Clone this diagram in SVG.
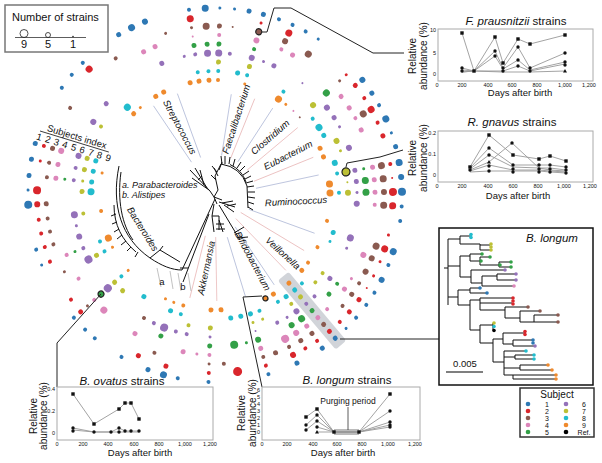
<svg xmlns="http://www.w3.org/2000/svg" xmlns:xlink="http://www.w3.org/1999/xlink" width="602" height="463" viewBox="0 0 602 463">
<style>
text{font-family:"Liberation Sans",Arial,Helvetica,sans-serif;fill:#111}
.it{font-style:italic}
.k1{fill:#2e78b4}.k2{fill:#d9262c}.k3{fill:#8a5a50}.k4{fill:#dc86ba}.k5{fill:#33a047}.k6{fill:#9471b9}.k7{fill:#bcc035}.k8{fill:#22bccd}.k9{fill:#ef8a2d}.k0{fill:#000}
.o{stroke:#222;stroke-width:1.2}
.tr{fill:none;stroke:#111;stroke-width:1}
.gb{stroke:#9aa6cc;stroke-width:.6}
.gr{stroke:#e3a3a3;stroke-width:.6}
.box{fill:#fff;stroke:#aaa;stroke-width:1}
.dl{fill:none;stroke:#999;stroke-width:.9}
.tk{font-size:5.5px;fill:#555}
.ax{font-size:9.5px}
.yl{font-size:10px}
.ttl{font-size:11.5px}
.cn{fill:none;stroke:#222;stroke-width:1}
.gn{font-size:9.5px;font-style:italic}
.lg{font-size:7px}
</style>
<defs>
<rect id="sq" x="-1.7" y="-1.7" width="3.4" height="3.4"/>
<circle id="ci" r="1.7"/>
<path id="tri" d="M0,-2 L2,1.5 L-2,1.5Z"/>
</defs>

<g id="legend-strains">
<rect x="5" y="5" width="103" height="47" fill="#fff" stroke="#777" stroke-width="1.5"/>
<text x="12" y="21" font-size="11">Number of strains</text>
<line x1="15" y1="37.5" x2="86" y2="37.5" stroke="#333" stroke-width=".8"/>
<circle cx="24" cy="33.5" r="4" fill="none" stroke="#222" stroke-width=".8"/>
<circle cx="48" cy="35" r="2.5" fill="none" stroke="#222" stroke-width=".8"/>
<circle cx="73" cy="36.5" r=".8" fill="#222"/>
<text x="24" y="48" font-size="11" text-anchor="middle">9</text>
<text x="48" y="48" font-size="11" text-anchor="middle">5</text>
<text x="73" y="48" font-size="11" text-anchor="middle">1</text>
</g>

<rect id="highlight" transform="translate(215 195) rotate(50)" x="106" y="-7" width="90" height="14" rx="3" fill="#c9cdd2" opacity=".85"/>

<g id="dots" transform="translate(215 195)">
<g transform="rotate(-178.5)"><circle class="k1" cx="187" r="1.5"/><circle class="k2" cx="178" r="4"/><circle class="k7" cx="133" r="2.5"/><circle class="k8" cx="124" r="3.5"/></g>
<g transform="rotate(-174)"><circle class="k1" cx="187" r="2.5"/><circle class="k3" cx="169" r="2"/><circle class="k4" cx="160" r="2.5"/><circle class="k5" cx="151" r="1.5"/><circle class="k6" cx="142" r="2"/><circle class="k7" cx="133" r="1.5"/><circle class="k8" cx="124" r="2.5"/></g>
<g transform="rotate(-169)"><circle class="k1" cx="187" r="2.5"/><circle class="k2" cx="178" r="1.5"/><circle class="k3" cx="169" r="2"/><circle class="k4" cx="160" r="2.5"/><circle class="k6" cx="142" r="2"/><circle class="k7" cx="133" r="2.5"/><circle class="k8" cx="124" r="2.5"/><circle class="k9" cx="115" r="1.5"/></g>
<g transform="rotate(-164)"><circle class="k1" cx="187" r="2.5"/><circle class="k2" cx="178" r="2"/><circle class="k3" cx="169" r="2.5"/><circle class="k4" cx="160" r="3"/><circle class="k6" cx="142" r="3"/><circle class="k7" cx="133" r="2.5"/><circle class="k8" cx="124" r="2.5"/></g>
<g transform="rotate(-149)"><circle class="k3" cx="169" r="2"/><circle class="k6" cx="142" r="3"/><circle class="k7" cx="133" r="2"/></g>
<g transform="rotate(-145)"><circle class="k1" cx="187" r="2"/></g>
<g transform="rotate(-140)"><circle class="k1" cx="187" r="2"/><circle class="k6" cx="142" r="2.5"/></g>
<g transform="rotate(-135)"><circle class="k1" cx="187" r="2"/><circle class="k2" cx="178" r="3.5"/><circle class="k8" cx="124" r="3.5"/><circle class="k9" cx="115" r="2.5"/></g>
<g transform="rotate(-130.5)"><circle class="k9" cx="115" r="1.5"/></g>
<g transform="rotate(-126)"><circle class="k3" cx="169" r="2"/></g>
<g transform="rotate(-121)"><circle class="k1" cx="187" r="2.5"/><circle class="k9" cx="115" r="2.5"/></g>
<g transform="rotate(-116.5)"><circle class="k1" cx="187" r="3.5"/><circle class="k4" cx="160" r="2.5"/><circle class="k9" cx="115" r="2.5"/></g>
<g transform="rotate(-112)"><circle class="k1" cx="187" r="3"/><circle class="k4" cx="160" r="2.5"/><circle class="k6" cx="142" r="2.5"/></g>
<g transform="rotate(-107)"><circle class="k3" cx="169" r="1.5"/></g>
<g transform="rotate(-102.5)"><circle class="k6" cx="142" r="1.5"/><circle class="k9" cx="115" r="2.5"/></g>
<g transform="rotate(-98)"><circle class="k1" cx="187" r="2"/><circle class="k2" cx="178" r="3.5"/><circle class="k3" cx="169" r="1.5"/><circle class="k4" cx="160" r="1"/><circle class="k5" cx="151" r="2.5"/><circle class="k6" cx="142" r="2"/><circle class="k8" cx="124" r="2"/><circle class="k9" cx="115" r="2.5"/></g>
<g transform="rotate(-93)"><circle class="k1" cx="187" r="3.5"/><circle class="k3" cx="169" r="3.5"/><circle class="k5" cx="151" r="2.5"/><circle class="k6" cx="142" r="3.5"/><circle class="k8" cx="124" r="2"/><circle class="k9" cx="115" r="2.5"/></g>
<g transform="rotate(-88.5)"><circle class="k1" cx="187" r="1.5"/><circle class="k3" cx="169" r="2.5"/><circle class="k4" cx="160" r="2"/><circle class="k5" cx="151" r="2.5"/><circle class="k6" cx="142" r="3.5"/><circle class="k7" cx="133" r="2.5"/><circle class="k8" cx="124" r="2"/><circle class="k9" cx="115" r="2"/></g>
<g transform="rotate(-84)"><circle class="k1" cx="187" r="1.5"/><circle class="k3" cx="169" r="1"/><circle class="k6" cx="142" r="2"/></g>
<g transform="rotate(-79.5)"><circle class="k1" cx="187" r="2.5"/><circle class="k8" cx="124" r="2.5"/></g>
<g transform="rotate(-75)"><circle class="k1" cx="187" r="2.5"/><circle class="k2" cx="178" r="1.5"/><circle class="k3 o" cx="169" r="3"/><circle class="k4" cx="160" r="3"/><circle class="k5" cx="151" r="2"/><circle class="k6" cx="142" r="3"/><circle class="k7" cx="133" r="2.5"/><circle class="k8" cx="124" r="2"/><circle class="k9" cx="115" r="1.5"/></g>
<g transform="rotate(-70)"><circle class="k1" cx="187" r="2"/><circle class="k6" cx="142" r="1.5"/></g>
<g transform="rotate(-65.5)"><circle class="k1" cx="187" r="2"/><circle class="k2" cx="178" r="3.5"/><circle class="k3" cx="169" r="3"/><circle class="k4" cx="160" r="2"/><circle class="k6" cx="142" r="2.5"/></g>
<g transform="rotate(-61)"><circle class="k1" cx="187" r="2"/><circle class="k4" cx="160" r="2.5"/></g>
<g transform="rotate(-56.5)"><circle class="k1" cx="187" r="1.5"/><circle class="k3" cx="169" r="3.5"/><circle class="k8" cx="124" r="2"/><circle class="k9" cx="115" r="3.5"/></g>
<g transform="rotate(-52)"><circle class="k6" cx="142" r="1"/><circle class="k9" cx="115" r="1.5"/></g>
<g transform="rotate(-47)"><circle class="k4" cx="115" r="1"/></g>
<g transform="rotate(-42.5)"><circle class="k2" cx="178" r="1.5"/><circle class="k3" cx="169" r="1.5"/><circle class="k5" cx="151" r="3.5"/><circle class="k7" cx="133" r="3"/><circle class="k3" cx="115" r="1"/></g>
<g transform="rotate(-38)"><circle class="k1" cx="187" r="3"/><circle class="k2" cx="178" r="2.5"/><circle class="k4" cx="160" r="2.5"/><circle class="k6" cx="142" r="3"/><circle class="k8" cx="124" r="2"/></g>
<g transform="rotate(-33)"><circle class="k1" cx="187" r="2.5"/><circle class="k2" cx="178" r="2"/><circle class="k4" cx="160" r="2.5"/><circle class="k6" cx="142" r="2.5"/><circle class="k8" cx="124" r="3.5"/></g>
<g transform="rotate(-28.7)"><circle class="k1" cx="187" r="2"/><circle class="k2" cx="178" r="3.5"/><circle class="k3" cx="169" r="3.5"/><circle class="k4" cx="160" r="2"/><circle class="k6" cx="142" r="1.5"/><circle class="k8" cx="124" r="2.5"/></g>
<g transform="rotate(-24)"><circle class="k1" cx="187" r="3.5"/><circle class="k2" cx="178" r="2"/><circle class="k4" cx="160" r="2.5"/><circle class="k7" cx="133" r="3"/><circle class="k9" cx="115" r="2.5"/></g>
<g transform="rotate(-19.4)"><circle class="k1" cx="187" r="1.5"/><circle class="k2" cx="178" r="2.5"/><circle class="k6" cx="142" r="3"/><circle class="k7" cx="133" r="1.5"/><circle class="k9" cx="115" r="2.5"/></g>
<g transform="rotate(-15)"><circle class="k1" cx="187" r="2.5"/><circle class="k8" cx="124" r="3"/></g>
<g transform="rotate(-10)"><circle class="k1" cx="187" r="3.5"/><circle class="k2" cx="178" r="2"/><circle class="k3" cx="169" r="3.5"/><circle class="k4" cx="160" r="2.5"/><circle class="k5" cx="151" r="1.5"/><circle class="k6" cx="142" r="2.5"/><circle class="k7 o" cx="133" r="4"/><circle class="k8" cx="124" r="2"/></g>
<g transform="rotate(-5.5)"><circle class="k1" cx="187" r="3"/><circle class="k2" cx="178" r="1"/><circle class="k3" cx="169" r="3.5"/><circle class="k4" cx="160" r="2.5"/><circle class="k5" cx="151" r="3.5"/><circle class="k6" cx="142" r="2.5"/><circle class="k7" cx="133" r="1"/><circle class="k9" cx="115" r="3.5"/></g>
<g transform="rotate(-1)"><circle class="k1" cx="187" r="4"/><circle class="k2" cx="178" r="4"/><circle class="k3" cx="169" r="3"/><circle class="k4" cx="160" r="2.5"/><circle class="k5" cx="151" r="3.5"/><circle class="k6" cx="142" r="1.5"/><circle class="k7" cx="133" r="3"/><circle class="k8" cx="124" r="2"/><circle class="k9" cx="115" r="3.5"/></g>
<g transform="rotate(3.5)"><circle class="k1" cx="187" r="2"/><circle class="k2" cx="178" r="3.5"/><circle class="k3" cx="169" r="3.5"/><circle class="k4" cx="160" r="2"/><circle class="k6" cx="142" r="3"/></g>
<g transform="rotate(8)"><circle class="k1" cx="187" r="2"/></g>
<g transform="rotate(13)"><circle class="k2" cx="178" r="1.5"/><circle class="k9" cx="115" r="2"/></g>
<g transform="rotate(17.6)"><circle class="k1" cx="187" r="3.5"/><circle class="k2" cx="178" r="3.5"/><circle class="k3" cx="169" r="3.5"/><circle class="k6" cx="142" r="3.5"/><circle class="k8" cx="124" r="2.5"/></g>
<g transform="rotate(22)"><circle class="k1" cx="187" r="2"/><circle class="k2" cx="178" r="1.5"/><circle class="k3" cx="169" r="3"/><circle class="k4" cx="160" r="3"/><circle class="k6" cx="142" r="1.5"/><circle class="k8" cx="124" r="1.5"/></g>
<g transform="rotate(27)"><circle class="k1" cx="187" r="3"/><circle class="k2" cx="178" r="1.5"/><circle class="k3" cx="169" r="3"/><circle class="k9" cx="115" r="2"/></g>
<g transform="rotate(31.5)"><circle class="k1" cx="187" r="2"/><circle class="k2" cx="178" r="1"/><circle class="k3" cx="169" r="2"/><circle class="k4" cx="160" r="1.5"/></g>
<g transform="rotate(36)"><circle class="k1" cx="187" r="2"/><circle class="k2" cx="178" r="2.5"/><circle class="k3" cx="169" r="2.5"/><circle class="k4" cx="160" r="2.5"/><circle class="k5" cx="151" r="2"/><circle class="k6" cx="142" r="2.5"/><circle class="k7" cx="133" r="2"/><circle class="k9" cx="115" r="2"/></g>
<g transform="rotate(41)"><circle class="k1" cx="187" r="2"/><circle class="k2" cx="178" r="2.5"/><circle class="k3" cx="169" r="2"/><circle class="k5" cx="151" r="2.5"/><circle class="k7" cx="133" r="2"/><circle class="k9" cx="115" r="2.5"/></g>
<g transform="rotate(45.5)"><circle class="k1" cx="187" r="1.5"/><circle class="k2" cx="178" r="2"/><circle class="k4" cx="160" r="2"/><circle class="k6" cx="142" r="2"/><circle class="k8" cx="124" r="2"/></g>
<g transform="rotate(50)"><circle class="k1" cx="187" r="2.5"/><circle class="k2" cx="178" r="2.5"/><circle class="k3" cx="169" r="2.5"/><circle class="k4" cx="160" r="2.5"/><circle class="k5" cx="151" r="2.5"/><circle class="k6" cx="142" r="2"/><circle class="k7" cx="133" r="2.5"/><circle class="k8" cx="124" r="2.5"/><circle class="k9" cx="115" r="2.5"/></g>
<g transform="rotate(55)"><circle class="k1" cx="187" r="2.5"/><circle class="k2" cx="178" r="2"/><circle class="k3" cx="169" r="2.5"/><circle class="k4" cx="160" r="2.5"/><circle class="k5" cx="151" r="3.5"/><circle class="k6" cx="142" r="3"/><circle class="k7" cx="133" r="2"/><circle class="k8" cx="124" r="2.5"/></g>
<g transform="rotate(59.5)"><circle class="k2" cx="178" r="2"/><circle class="k3" cx="169" r="2.5"/><circle class="k4" cx="160" r="3"/><circle class="k5" cx="151" r="3"/><circle class="k6" cx="142" r="1.5"/><circle class="k8" cx="124" r="2"/><circle class="k9" cx="115" r="2.5"/></g>
<g transform="rotate(64)"><circle class="k1" cx="187" r="2.5"/><circle class="k2" cx="178" r="3"/><circle class="k3" cx="169" r="2"/><circle class="k4" cx="160" r="4"/><circle class="k6" cx="142" r="2"/><circle class="k9 o" cx="115" r="2.5"/></g>
<g transform="rotate(69)"><circle class="k3" cx="169" r="2.5"/><circle class="k7" cx="133" r="1.5"/><circle class="k8" cx="124" r="2"/></g>
<g transform="rotate(73.4)"><circle class="k1" cx="187" r="2"/><circle class="k2" cx="178" r="2"/><circle class="k3" cx="169" r="2"/><circle class="k4" cx="160" r="2.5"/><circle class="k5" cx="151" r="3"/><circle class="k6" cx="142" r="1"/><circle class="k7" cx="133" r="1.5"/><circle class="k8" cx="124" r="2.5"/></g>
<g transform="rotate(78)"><circle class="k5" cx="151" r="1.5"/><circle class="k8" cx="124" r="2.5"/></g>
<g transform="rotate(82.7)"><circle class="k2" cx="178" r="4.5"/><circle class="k5" cx="151" r="4"/><circle class="k8" cx="124" r="2.5"/></g>
<g transform="rotate(87)"><circle class="k3" cx="169" r="2"/><circle class="k9" cx="115" r="2.5"/></g>
<g transform="rotate(92)"><circle class="k1" cx="187" r="2"/><circle class="k2" cx="178" r="2"/><circle class="k3" cx="169" r="1.5"/><circle class="k4" cx="160" r="2"/><circle class="k5" cx="151" r="2.5"/><circle class="k6" cx="142" r="1.5"/><circle class="k7" cx="133" r="2.5"/><circle class="k9" cx="115" r="2.5"/></g>
<g transform="rotate(96.5)"><circle class="k4" cx="160" r="1.5"/></g>
<g transform="rotate(101.5)"><circle class="k1" cx="187" r="2"/><circle class="k4" cx="160" r="2.5"/><circle class="k6" cx="142" r="2"/><circle class="k7" cx="133" r="2"/></g>
<g transform="rotate(106)"><circle class="k1" cx="187" r="3.5"/><circle class="k2" cx="178" r="2.5"/><circle class="k6" cx="142" r="2"/><circle class="k8" cx="124" r="2"/><circle class="k9" cx="115" r="2"/></g>
<g transform="rotate(111)"><circle class="k1" cx="187" r="2.5"/><circle class="k3" cx="169" r="2"/><circle class="k5" cx="151" r="2.5"/><circle class="k6" cx="142" r="4"/><circle class="k8" cx="124" r="2.5"/><circle class="k9" cx="115" r="1.5"/></g>
<g transform="rotate(115.5)"><circle class="k2" cx="178" r="2.5"/><circle class="k6" cx="142" r="2"/><circle class="k9" cx="115" r="1.5"/></g>
<g transform="rotate(120)"><circle class="k1" cx="187" r="2"/><circle class="k4" cx="160" r="2.5"/><circle class="k3" cx="142" r="2"/></g>
<g transform="rotate(125)"><circle class="k8" cx="124" r="2.5"/></g>
<g transform="rotate(130)"><circle class="k1" cx="187" r="2"/></g>
<g transform="rotate(134)"><circle class="k1" cx="187" r="2"/><circle class="k4" cx="160" r="3.5"/><circle class="k7" cx="133" r="2.5"/></g>
<g transform="rotate(139)"><circle class="k1" cx="187" r="2"/><circle class="k2" cx="178" r="2.5"/><circle class="k3" cx="169" r="1.5"/><circle class="k4" cx="160" r="2"/><circle class="k5 o" cx="151" r="3"/><circle class="k6" cx="142" r="4"/><circle class="k7" cx="133" r="2.5"/><circle class="k8" cx="124" r="2"/><circle class="k9" cx="115" r="1.5"/></g>
<g transform="rotate(144)"><circle class="k2" cx="178" r="2"/></g>
<g transform="rotate(148.5)"><circle class="k4" cx="160" r="2"/></g>
<g transform="rotate(153)"><circle class="k3" cx="169" r="1.5"/><circle class="k6" cx="142" r="4"/><circle class="k7" cx="133" r="2.5"/><circle class="k8" cx="124" r="2"/><circle class="k9" cx="115" r="1.5"/></g>
<g transform="rotate(158)"><circle class="k1" cx="187" r="1.5"/><circle class="k2" cx="178" r="2"/><circle class="k4" cx="160" r="2"/><circle class="k5" cx="151" r="1.5"/><circle class="k6" cx="142" r="2"/><circle class="k8" cx="124" r="2"/><circle class="k9" cx="115" r="3.5"/></g>
<g transform="rotate(163)"><circle class="k1" cx="187" r="2"/><circle class="k2" cx="178" r="2"/><circle class="k3" cx="169" r="2"/><circle class="k6" cx="142" r="3"/></g>
<g transform="rotate(167.5)"><circle class="k2" cx="178" r="2"/><circle class="k3" cx="169" r="2"/><circle class="k6" cx="142" r="1.5"/></g>
<g transform="rotate(172)"><circle class="k2" cx="178" r="2"/><circle class="k3" cx="169" r="2"/><circle class="k6" cx="142" r="3.5"/><circle class="k7" cx="133" r="2"/><circle class="k9" cx="115" r="2"/></g>
<g transform="rotate(177)"><circle class="k1" cx="187" r="4"/><circle class="k2" cx="178" r="3"/><circle class="k3" cx="169" r="2.5"/></g>
</g>

<g id="genus-lines" transform="translate(215 197)">
<line class="gb" transform="rotate(-124)" x1="42" x2="110"/>
<line class="gb" transform="rotate(-110)" x1="42" x2="110"/>
<line class="gb" transform="rotate(-81)" x1="42" x2="104"/>
<line class="gr" transform="rotate(-68)" x1="42" x2="106"/>
<line class="gb" transform="rotate(-57)" x1="42" x2="106"/>
<line class="gr" transform="rotate(-40)" x1="42" x2="108"/>
<line class="gr" transform="rotate(-22)" x1="42" x2="106"/>
<line class="gb" transform="rotate(-12)" x1="42" x2="106"/>
<line class="gb" transform="rotate(20)" x1="36" x2="106"/>
<line class="gr" transform="rotate(31)" x1="30" x2="104"/>
<line class="gr" transform="rotate(46)" x1="30" x2="102"/>
<line class="gb" transform="rotate(56)" x1="36" x2="106"/>
<line class="gb" transform="rotate(73)" x1="42" x2="104"/>
<line class="gr" transform="rotate(89)" x1="40" x2="104"/>
<line class="gr" transform="rotate(104)" x1="40" x2="104"/>
<line stroke="#999" stroke-width=".6" x1="-58" y1="71" x2="-54" y2="90"/>
<line stroke="#999" stroke-width=".6" x1="-45" y1="74" x2="-42" y2="92"/>
<line stroke="#999" stroke-width=".6" x1="-37" y1="76" x2="-34" y2="94"/>
<line stroke="#999" stroke-width=".6" x1="-27" y1="76" x2="-24" y2="94"/>
</g>

<g id="tree">
<path class="tr" d="M214,197 L210,191 M214,197 L218,190 M214,197 L217,204 M214,197 L222,200"/>
<path class="tr" d="M210,191 L190,170 M207,188 L195,168 M204,185 L200,170 M209,190 L192,178 M198,180 L202,176"/>
<path class="tr" d="M218,190 L215,176 L221,164 M221,164 Q241,167 247,186 L248,208"/>
<path class="tr" stroke-width="2" d="M230,164.5 Q242,170 246,182"/>
<path class="tr" stroke-width=".7" d="M222,164 L221,156 M225,164 L225,156 M229,164 L230,157 M233,166 L235,159 M237,168 L241,162 M240,171 L245,166 M243,175 L249,171 M245,179 L251,176 M246,183 L253,181 M247,187 L254,186 M248,192 L255,192 M248,197 L255,198 M248,202 L254,204 M248,207 L253,210 M218,176 L214,168 M217,172 L212,166 M216,180 L211,175 M219,170 L222,162"/>
<path class="tr" d="M119,166 C111,205 121,238 150,258 C162,266 172,270 182,270 M215,199 L182,270"/>
<path class="tr" stroke-width="1.8" d="M121,172 C117,200 122,225 133,240"/>
<path class="tr" stroke-width=".7" d="M114,205 C114,225 122,240 136,252 M116,214 L111,216 M117,222 L112,224 M119,229 L114,232 M122,235 L117,239 M126,241 L121,245 M131,247 L127,251 M138,252 L135,257"/>
<path class="tr" d="M150,258 L160,250 L180,262 M160,250 L163,246"/>
<path class="tr" d="M209,214 L183,282 M180,268 L188,268"/>
<path class="tr" d="M214,204 L212,216 L214,232 M212,216 L219,216 L219,230 M216,224 L224,224 M216,229 L225,229 M219,220 L223,232"/>
<path class="tr" d="M219,205 L240,240 M234,233 L244,227 M237,238 L248,237"/>
<path class="tr" d="M219,202 L235,207 M222,203 L233,201 M224,205 L234,212 M227,206 L236,204"/>
</g>

<g id="genus-labels">
<text class="gn" text-anchor="middle" dominant-baseline="central" transform="translate(180 127) rotate(62)">Streptococcus</text>
<text class="gn" text-anchor="middle" dominant-baseline="central" transform="translate(236 119) rotate(-72)">Faecalibacterium</text>
<text class="gn" text-anchor="middle" dominant-baseline="central" transform="translate(270 137) rotate(-41)">Clostridium</text>
<text class="gn" text-anchor="middle" dominant-baseline="central" transform="translate(288 155) rotate(-27)">Eubacterium</text>
<text class="gn" text-anchor="middle" dominant-baseline="central" transform="translate(296 201) rotate(-3)">Ruminococcus</text>
<text class="gn" text-anchor="middle" dominant-baseline="central" transform="translate(283 253) rotate(42)">Veillonella</text>
<text class="gn" text-anchor="middle" dominant-baseline="central" transform="translate(253 261) rotate(62)">Bifidobacterium</text>
<text class="gn" text-anchor="middle" dominant-baseline="central" transform="translate(206 268) rotate(-78)">Akkermansia</text>
<text class="gn" text-anchor="middle" dominant-baseline="central" transform="translate(143 229) rotate(58)">Bacteroides</text>
<text class="it" font-size="9" x="122" y="188">a. Parabacteroides</text>
<text class="it" font-size="9" x="122" y="198">b. Alistipes</text>
<text font-size="9.5" x="162" y="285" text-anchor="middle">a</text>
<text font-size="9.5" x="183" y="290" text-anchor="middle">b</text>
</g>

<g id="subjects-index" transform="translate(40 131) rotate(17)">
<line x1="0" y1="0" x2="72" y2="0" stroke="#222" stroke-width=".8"/>
<text x="37" y="-2" font-size="9.5" text-anchor="middle">Subjects index</text>
<g font-size="9.5" text-anchor="middle">
<text x="1" y="9">1</text><text x="10" y="9">2</text><text x="19" y="9">3</text><text x="28" y="9">4</text><text x="37" y="9">5</text><text x="46" y="9">6</text><text x="55" y="9">7</text><text x="64" y="9">8</text><text x="73" y="9">9</text>
</g>
</g>

<g id="connectors" class="cn">
<polyline points="262,32 267,32 274,8 291,8 373,53 404,53"/>
<polyline points="346,167 347,163 380,157 403,150"/>
<polyline points="101,294 57,343 57,387"/>
<polyline points="262,296 243,297 262,387"/>
<polyline points="340,339 439,339"/>
</g>

<g id="plot-fprausnitzii">
<text class="ttl" x="516" y="25" text-anchor="middle"><tspan class="it">F. prausnitzii</tspan> strains</text>
<rect class="box" x="438" y="29" width="155" height="52"/>
<text class="yl" transform="translate(416 56) rotate(-90)" text-anchor="middle">Relative</text>
<text class="yl" transform="translate(427 56) rotate(-90)" text-anchor="middle">abundance (%)</text>
<g class="tk" text-anchor="middle"><text x="437" y="87">0</text><text x="462" y="87">200</text><text x="488" y="87">400</text><text x="512" y="87">600</text><text x="537" y="87">800</text><text x="565" y="87">1,000</text><text x="589" y="87">1,200</text></g>
<g class="tk" text-anchor="end"><text x="436" y="32">10</text><text x="436" y="55">5</text><text x="436" y="76">0</text></g>
<polyline class="dl" points="462,33 474,71 495,37 503,63 518,39 530,44 565,35"/>
<polyline class="dl" points="462,68 474,71 495,51 503,68 518,47 530,68 565,53"/>
<polyline class="dl" points="462,70 474,71 495,56 503,69 518,60 530,70 565,62"/>
<polyline class="dl" points="462,72 474,71 503,71 518,66 530,71 565,64"/>
<polyline class="dl" points="462,72 474,71 503,72 518,72 530,72 565,71"/>
<g fill="#111">
<use xlink:href="#sq" x="462" y="33"/><use xlink:href="#sq" x="474" y="71"/><use xlink:href="#sq" x="495" y="37"/><use xlink:href="#sq" x="503" y="63"/><use xlink:href="#sq" x="518" y="39"/><use xlink:href="#sq" x="530" y="44"/><use xlink:href="#sq" x="565" y="35"/>
<use xlink:href="#ci" x="462" y="68"/><use xlink:href="#ci" x="495" y="51"/><use xlink:href="#ci" x="503" y="68"/><use xlink:href="#ci" x="518" y="47"/><use xlink:href="#ci" x="530" y="68"/><use xlink:href="#ci" x="565" y="53"/>
<use xlink:href="#ci" x="462" y="71"/><use xlink:href="#ci" x="495" y="56"/><use xlink:href="#ci" x="518" y="60"/><use xlink:href="#ci" x="565" y="62"/><use xlink:href="#ci" x="518" y="66"/><use xlink:href="#ci" x="565" y="65"/><use xlink:href="#ci" x="530" y="71"/><use xlink:href="#ci" x="503" y="71"/>
<use xlink:href="#tri" x="565" y="71"/>
</g>
<text class="ax" x="520" y="96" text-anchor="middle">Days after birth</text>
</g>

<g id="plot-rgnavus">
<text class="ttl" x="512" y="126" text-anchor="middle"><tspan class="it">R. gnavus</tspan> strains</text>
<rect class="box" x="438" y="131" width="155" height="51"/>
<text class="yl" transform="translate(416 158) rotate(-90)" text-anchor="middle">Relative</text>
<text class="yl" transform="translate(427 158) rotate(-90)" text-anchor="middle">abundance (%)</text>
<g class="tk" text-anchor="middle"><text x="437" y="188">0</text><text x="462" y="188">200</text><text x="488" y="188">400</text><text x="513" y="188">600</text><text x="538" y="188">800</text><text x="564" y="188">1,000</text><text x="590" y="188">1,200</text></g>
<g class="tk" text-anchor="end"><text x="436" y="135">0.2</text><text x="436" y="156">0.1</text><text x="436" y="177">0</text></g>
<polyline class="dl" points="470,167 489,135 513,155 539,159 550,156 566,161"/>
<polyline class="dl" points="470,168 489,148 513,165 539,165 550,165 566,167"/>
<polyline class="dl" points="470,169 489,155 513,167 539,168 550,168 566,170"/>
<polyline class="dl" points="470,170 489,162 512,143 539,168 550,170 566,171"/>
<polyline class="dl" points="470,171 489,165 513,170 539,170 550,171 566,172"/>
<polyline class="dl" points="470,172 489,171 513,171 539,171 550,172 566,173"/>
<g fill="#111">
<use xlink:href="#sq" x="470" y="167"/><use xlink:href="#sq" x="489" y="135"/><use xlink:href="#sq" x="513" y="155"/><use xlink:href="#sq" x="539" y="159"/><use xlink:href="#sq" x="550" y="156"/><use xlink:href="#sq" x="566" y="161"/>
<use xlink:href="#ci" x="489" y="148"/><use xlink:href="#ci" x="489" y="155"/><use xlink:href="#ci" x="512" y="143"/><use xlink:href="#tri" x="489" y="162"/>
<use xlink:href="#ci" x="470" y="170"/><use xlink:href="#ci" x="489" y="166"/><use xlink:href="#ci" x="489" y="171"/><use xlink:href="#ci" x="513" y="165"/><use xlink:href="#ci" x="513" y="169"/><use xlink:href="#ci" x="513" y="172"/>
<use xlink:href="#ci" x="539" y="165"/><use xlink:href="#ci" x="539" y="169"/><use xlink:href="#ci" x="539" y="172"/><use xlink:href="#ci" x="550" y="165"/><use xlink:href="#ci" x="550" y="169"/><use xlink:href="#ci" x="550" y="172"/>
<use xlink:href="#ci" x="566" y="167"/><use xlink:href="#ci" x="566" y="170"/><use xlink:href="#ci" x="566" y="173"/>
</g>
<text class="ax" x="518" y="199" text-anchor="middle">Days after birth</text>
</g>

<g id="plot-bovatus">
<text class="ttl" x="122" y="385" text-anchor="middle"><tspan class="it">B. ovatus</tspan> strains</text>
<rect class="box" x="57" y="387" width="156" height="53"/>
<text class="yl" transform="translate(37 416) rotate(-90)" text-anchor="middle">Relative</text>
<text class="yl" transform="translate(47 416) rotate(-90)" text-anchor="middle">abundance (%)</text>
<g class="tk" text-anchor="middle"><text x="57" y="446">0</text><text x="83" y="446">200</text><text x="108" y="446">400</text><text x="134" y="446">600</text><text x="159" y="446">800</text><text x="185" y="446">1,000</text><text x="210" y="446">1,200</text></g>
<g class="tk" text-anchor="end"><text x="55" y="391">0.4</text><text x="55" y="413">0.2</text><text x="55" y="435">0</text></g>
<polyline class="dl" points="73,394 94,424 119,409 125,403 131,403 139,419"/>
<polyline class="dl" points="73,428 94,432 111,432 119,428 125,431 131,431 139,431"/>
<polyline class="dl" points="73,430 94,432 119,432 125,432 131,432 139,432"/>
<g fill="#111">
<use xlink:href="#sq" x="73" y="394"/><use xlink:href="#sq" x="94" y="424"/><use xlink:href="#sq" x="119" y="409"/><use xlink:href="#sq" x="125" y="403"/><use xlink:href="#sq" x="131" y="403"/><use xlink:href="#sq" x="139" y="419"/>
<use xlink:href="#ci" x="73" y="428"/><use xlink:href="#ci" x="73" y="431"/><use xlink:href="#ci" x="94" y="432"/><use xlink:href="#ci" x="111" y="432"/><use xlink:href="#ci" x="119" y="428"/><use xlink:href="#ci" x="119" y="432"/><use xlink:href="#ci" x="125" y="431"/><use xlink:href="#ci" x="131" y="431"/><use xlink:href="#ci" x="139" y="431"/>
</g>
<text class="ax" x="140" y="456" text-anchor="middle">Days after birth</text>
</g>

<g id="plot-blongum">
<text class="ttl" x="347" y="384" text-anchor="middle"><tspan class="it">B. longum</tspan> strains</text>
<rect class="box" x="262" y="387" width="158" height="53"/>
<text class="yl" transform="translate(245 413) rotate(-90)" text-anchor="middle">Relative</text>
<text class="yl" transform="translate(256 413) rotate(-90)" text-anchor="middle">abundance (%)</text>
<g class="tk" text-anchor="middle"><text x="262" y="446">0</text><text x="287" y="446">200</text><text x="313" y="446">400</text><text x="337" y="446">600</text><text x="362" y="446">800</text><text x="388" y="446">1,000</text><text x="415" y="446">1,200</text></g>
<g class="tk" text-anchor="end" font-size="4.5"><text x="260" y="392">6</text><text x="260" y="399">5</text><text x="260" y="406">4</text><text x="260" y="413">3</text><text x="260" y="420">2</text><text x="260" y="427">1</text><text x="260" y="434">0</text></g>
<rect x="334" y="429" width="25" height="6" fill="#bbb"/>
<polyline class="dl" points="306,417 317,409 334,432 359,432 390,394"/>
<polyline class="dl" points="306,425 317,415 334,432 359,432 390,411"/>
<polyline class="dl" points="306,430 317,421 334,432 359,432 390,422"/>
<polyline class="dl" points="317,427 334,432 359,432 390,425"/>
<polyline class="dl" points="317,432 334,432 359,432 390,427"/>
<g fill="#111">
<use xlink:href="#sq" x="306" y="417"/><use xlink:href="#sq" x="317" y="409"/><use xlink:href="#sq" x="334" y="432"/><use xlink:href="#sq" x="359" y="432"/><use xlink:href="#sq" x="390" y="394"/>
<use xlink:href="#ci" x="306" y="425"/><use xlink:href="#ci" x="306" y="430"/><use xlink:href="#ci" x="317" y="415"/><use xlink:href="#ci" x="317" y="421"/><use xlink:href="#ci" x="317" y="427"/><use xlink:href="#tri" x="317" y="432"/>
<use xlink:href="#ci" x="390" y="411"/><use xlink:href="#ci" x="390" y="422"/><use xlink:href="#ci" x="390" y="425"/><use xlink:href="#ci" x="390" y="427"/>
</g>
<text font-size="8.5" x="348" y="404" text-anchor="middle">Purging period</text>
<line x1="348" y1="407" x2="348" y2="430" stroke="#333" stroke-width=".8"/>
<text class="ax" x="343" y="456" text-anchor="middle">Days after birth</text>
</g>

<g id="blongum-tree">
<rect x="439" y="228" width="154" height="157" fill="none" stroke="#111" stroke-width="1.5"/>
<text class="ttl it" x="552" y="242" text-anchor="middle">B. longum</text>
<path class="tr" stroke-width=".9" d="M444,268 H448 M448,239 V305 M448,239 H460 M460,236 V244 M460,236 H470 M460,244 H480 M480,244 V250 M480,245 H490 M480,250 H490 M448,266 H460 M460,256 V277 M460,256 H470 M470,254 V261 M470,254 H481 M470,261 H480 M480,257 V265 M480,257 H489 M480,265 H499 M499,262 V267 M499,262 H510 M499,267 H510 M460,277 H471 M471,270 V283 M471,270 H504 M471,283 H482 M482,276 V286 M482,276 H497 M497,274 V280 M497,274 H515 M497,280 H515 M482,286 H513 M448,297 H458 M458,290 V305 M458,290 H470 M470,288 V293 M470,288 H479 M470,293 H486 M458,305 H470 M470,300 V330 M470,300 H480 M480,298 V310 M480,298 H512 M480,303 H512 M480,310 H505 M505,307 V318 M505,307 H527 M505,318 H520 M520,311 V322 M520,311 H539 M520,322 H534 M534,315 V322 M534,315 H557 M534,322 H557 M470,330 H480 M480,325 V343 M480,325 H493 M493,323 V330 M480,343 H493 M493,339 V362 M493,339 H503 M503,333 V344 M503,333 H524 M503,344 H513 M513,340 V346 M513,340 H532 M513,346 H534 M493,362 H504 M504,351 V375 M504,351 H525 M504,357 H515 M515,355 V359 M515,355 H533 M515,359 H533 M504,368 H520 M520,365 V370 M520,365 H547 M520,370 H551 M504,375 H513 M513,375 V379 M513,375 H555 M513,379 H555"/>
<g>
<circle class="k8" cx="471" cy="234.5" r="1.8"/><circle class="k8" cx="471" cy="237.5" r="1.8"/>
<circle class="k7" cx="491" cy="244" r="1.8"/><circle class="k7" cx="491" cy="247" r="1.8"/><circle class="k7" cx="491" cy="250" r="1.8"/>
<circle class="k5" cx="482" cy="254" r="1.8"/><circle class="k5" cx="481" cy="261" r="1.8"/><circle class="k5" cx="490" cy="257" r="1.8"/><circle class="k5" cx="500" cy="265" r="1.8"/><circle class="k5" cx="511" cy="262" r="1.8"/><circle class="k5" cx="511" cy="267" r="1.8"/>
<circle class="k6" cx="505" cy="270" r="1.8"/><circle class="k6" cx="516" cy="274" r="1.8"/><circle class="k6" cx="516" cy="280" r="1.8"/><circle class="k4" cx="514" cy="286" r="1.8"/>
<circle class="k1" cx="480" cy="288" r="1.8"/><circle class="k1" cx="487" cy="293" r="1.8"/>
<circle class="k2" cx="513" cy="298" r="1.8"/><circle class="k2" cx="513" cy="301" r="1.8"/><circle class="k2" cx="513" cy="304" r="1.8"/>
<circle class="k3" cx="528" cy="307" r="1.8"/><circle class="k3" cx="540" cy="311" r="1.8"/><circle class="k3" cx="558" cy="315" r="1.8"/><circle class="k3" cx="558" cy="322" r="1.8"/>
<circle class="k7" cx="494" cy="323" r="1.8"/><circle class="k8" cx="494" cy="326.5" r="1.8"/><circle class="k0" cx="494" cy="330.5" r="1.8"/>
<circle class="k2" cx="525" cy="331.5" r="1.8"/><circle class="k2" cx="525" cy="334.5" r="1.8"/>
<circle class="k1" cx="533" cy="340" r="1.8"/><circle class="k1" cx="533" cy="343" r="1.8"/><circle class="k6" cx="535" cy="346" r="1.8"/>
<circle class="k8" cx="526" cy="351" r="1.8"/><circle class="k8" cx="534" cy="355" r="1.8"/><circle class="k8" cx="534" cy="359" r="1.8"/>
<circle class="k9" cx="548" cy="365" r="1.8"/><circle class="k9" cx="552" cy="370" r="1.8"/><circle class="k9" cx="556" cy="375" r="1.8"/><circle class="k9" cx="556" cy="379" r="1.8"/>
</g>
<line x1="446" y1="372" x2="483" y2="372" stroke="#555" stroke-width="1.5"/>
<text x="465" y="367" font-size="9.5" text-anchor="middle">0.005</text>
</g>

<g id="subject-legend">
<rect x="520" y="388" width="74" height="49" fill="#fff" stroke="#333" stroke-width="1.5"/>
<text x="557" y="398" font-size="10" text-anchor="middle">Subject</text>
<circle class="k1" cx="528" cy="404" r="2.3"/><circle class="k2" cx="528" cy="411" r="2.3"/><circle class="k3" cx="528" cy="418" r="2.3"/><circle class="k4" cx="528" cy="425" r="2.3"/><circle class="k5" cx="528" cy="432" r="2.3"/>
<circle class="k6" cx="566" cy="404" r="2.3"/><circle class="k7" cx="566" cy="411" r="2.3"/><circle class="k8" cx="566" cy="418" r="2.3"/><circle class="k9" cx="566" cy="425" r="2.3"/><circle class="k0" cx="566" cy="432" r="2.3"/>
<g class="lg" text-anchor="middle">
<text x="547" y="406.5">1</text><text x="547" y="413.5">2</text><text x="547" y="420.5">3</text><text x="547" y="427.5">4</text><text x="547" y="434.5">5</text>
<text x="584" y="406.5">6</text><text x="584" y="413.5">7</text><text x="584" y="420.5">8</text><text x="584" y="427.5">9</text><text x="584" y="434.5">Ref.</text>
</g>
</g>
</svg>
